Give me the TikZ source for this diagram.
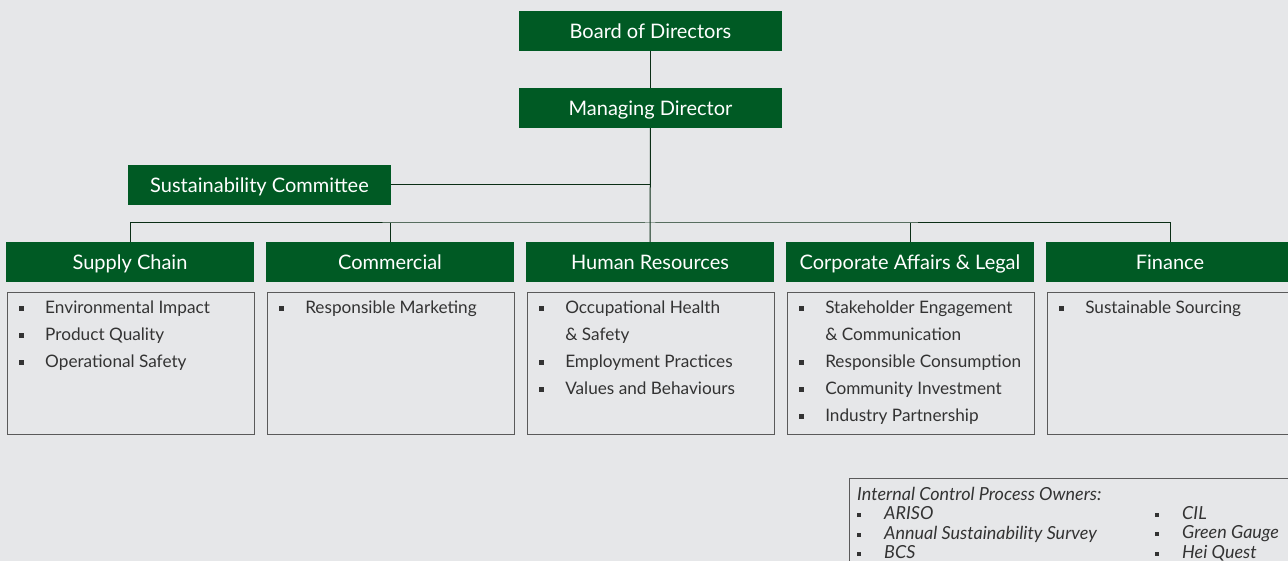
\documentclass[tikz,border=0pt]{standalone}
\usepackage{fontspec}
\setmainfont{Lato}
\definecolor{bggrey}{HTML}{E6E7E9}
\definecolor{hkgreen}{HTML}{005A24}
\definecolor{linkgreen}{HTML}{0B2E16}
\definecolor{boxline}{HTML}{5A5A5A}
\definecolor{txtgrey}{HTML}{333333}
% square bullets for the duty lists
\newcommand{\sqb}[1][4.5pt]{\raisebox{0.3ex}{\rule{#1}{#1}}}
\newcommand{\li}[1]{\makebox[26pt][l]{\sqb}#1}
\newcommand{\lc}[1]{\hspace*{26pt}#1}
\newcommand{\ci}[1]{\makebox[27pt][l]{\sqb[4pt]}\textit{#1}}
\tikzset{
  head/.style={fill=hkgreen,text=white,minimum width=263,minimum height=40,inner sep=0pt,
               text height=15pt,text depth=0pt,font=\fontsize{20}{22}\selectfont},
  dept/.style={head,minimum width=248},
  duties/.style={draw=boxline,line width=0.9pt,minimum width=247,minimum height=142,inner sep=0pt},
  dutylist/.style={anchor=north west,align=left,inner sep=0pt,text=txtgrey,font=\fontsize{17.2}{27}\selectfont},
  ctlbox/.style={draw=boxline,line width=0.9pt,anchor=north west,minimum width=470,minimum height=100,inner sep=0pt},
  ctltext/.style={anchor=north west,align=left,inner sep=0pt,text=txtgrey,font=\fontsize{18}{19.5}\selectfont},
  link/.style={draw=linkgreen,line width=1pt},
}

\begin{document}
\begin{tikzpicture}[x=1pt,y=-1pt]
  \useasboundingbox (0,0) rectangle (1288,561);
  \fill[bggrey] (0,0) rectangle (1288,561);

  % top of the chart
  \node[head] (bod) at (650.5,31)  {Board of Directors};
  \node[head] (md)  at (650.5,108) {Managing Director};
  \node[head] (sc)  at (259.5,185) {Sustainability Committee};

  % functions and their boxes
  \foreach \nm/\cx/\ttl in {sup/130/Supply Chain,com/390/Commercial,hr/650/Human Resources,
                            caf/910/Corporate Affairs \& Legal,fin/1170/Finance}{
    \node[dept]   (\nm)     at (\cx,262)   {\ttl};
    \node[duties] (\nm-box) at (\cx+1,363) {};
  }

  \node[dutylist] (sup-list) at ([xshift=12pt,yshift=-9pt]sup-box.north west)
    {\li{Environmental Impact}\\ \li{Product Quality}\\ \li{Operational Safety}};
  \node[dutylist] (com-list) at ([xshift=12pt,yshift=-9pt]com-box.north west)
    {\li{Responsible Marketing}};
  \node[dutylist] (hr-list) at ([xshift=12pt,yshift=-9pt]hr-box.north west)
    {\li{Occupational Health}\\ \lc{\& Safety}\\ \li{Employment Practices}\\ \li{Values and Behaviours}};
  \node[dutylist] (caf-list) at ([xshift=12pt,yshift=-9pt]caf-box.north west)
    {\li{Stakeholder Engagement}\\ \lc{\& Communication}\\ \li{Responsible Consumption}\\
     \li{Community Investment}\\ \li{Industry Partnership}};
  \node[dutylist] (fin-list) at ([xshift=12pt,yshift=-9pt]fin-box.north west)
    {\li{Sustainable Sourcing}};

  % reporting lines
  \coordinate (bus) at (650,223);
  \draw[link] (bod) -- (md);
  \draw[link] (md) -- (hr);
  \draw[link] (sc.east) -- (sc.east -| md.south);
  \draw[link] (sup.north) |- (bus) -| (fin.north);
  \foreach \nm in {com,caf}
    \draw[link] (\nm.north) -- (\nm.north |- bus);

  % control owners
  \node[ctlbox] (ctl) at (849,478) {};
  \node[ctltext] (ctl-left) at (857,487)
    {\textit{Internal Control Process Owners:}\\ \ci{ARISO}\\ \ci{Annual Sustainability Survey}\\ \ci{BCS}};
  \node[ctltext] (ctl-right) at (1155,506)
    {\ci{CIL}\\ \ci{Green Gauge}\\ \ci{Hei Quest}};
\end{tikzpicture}
\end{document}
